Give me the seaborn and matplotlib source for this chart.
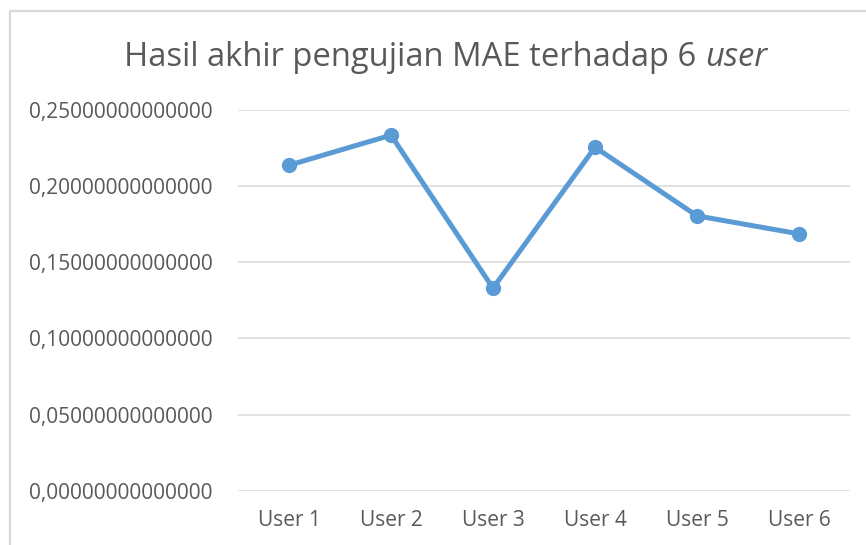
import matplotlib
matplotlib.use("Agg")
import matplotlib.pyplot as plt
from matplotlib.ticker import FuncFormatter, MultipleLocator
from matplotlib.lines import Line2D
import seaborn as sns
import pandas as pd

users = ["User 1", "User 2", "User 3", "User 4", "User 5", "User 6"]
mae = [0.2136, 0.2333, 0.1330, 0.2254, 0.1804, 0.1686]
title_main = "Hasil akhir pengujian MAE terhadap 6 "
title_italic = "user"

sns.set_style("white")
plt.rcParams["font.family"] = ["Open Sans", "DejaVu Sans"]

TXT = "#595959"
GRID = "#d9d9d9"
BLUE = "#5B9BD5"

df = pd.DataFrame({"user": users, "mae": mae})

fig = plt.figure(figsize=(8.66, 5.45), dpi=100)
ax = fig.add_axes([238 / 866, 1 - 491 / 545, (850 - 238) / 866, (491 - 109.7) / 545])

sns.lineplot(data=df, x="user", y="mae", ax=ax, color=BLUE, linewidth=3.6,
             marker="o", markersize=11, markeredgewidth=0, sort=False)

ax.set_xlim(-0.5, len(users) - 0.5)
ax.set_ylim(0, 0.25)
ax.yaxis.set_major_locator(MultipleLocator(0.05))
ax.yaxis.set_major_formatter(FuncFormatter(lambda v, p: f"{v:.14f}".replace(".", ",")))
ax.set_xlabel("")
ax.set_ylabel("")
ax.grid(axis="y", color=GRID, linewidth=1.1)
ax.set_axisbelow(True)
for s in ax.spines.values():
    s.set_visible(False)
ax.tick_params(axis="both", length=0, labelsize=15, labelcolor=TXT)
ax.tick_params(axis="y", pad=18)
ax.tick_params(axis="x", pad=14)

# chart border (cropped Excel chart area)
bx = 9.5 / 866
by = 1 - 10.7 / 545
fig.add_artist(Line2D([bx, bx], [0, by], transform=fig.transFigure, color=GRID, linewidth=1.6))
fig.add_artist(Line2D([bx, 1], [by, by], transform=fig.transFigure, color=GRID, linewidth=1.6))

# title with italic part
ty = 1 - 58 / 545
t1 = fig.text(0, ty, title_main, fontsize=23.6, color=TXT, ha="left", va="center")
t2 = fig.text(0, ty, title_italic, fontsize=23.6, color=TXT, ha="left", va="center", style="italic")
fig.canvas.draw()
r = fig.canvas.get_renderer()
w1 = t1.get_window_extent(r).width
w2 = t2.get_window_extent(r).width
total = w1 + w2
cx = 446
x0 = cx - total / 2
t1.set_x(x0 / 866)
t2.set_x((x0 + w1) / 866)

fig.savefig("out.png", dpi=100)
